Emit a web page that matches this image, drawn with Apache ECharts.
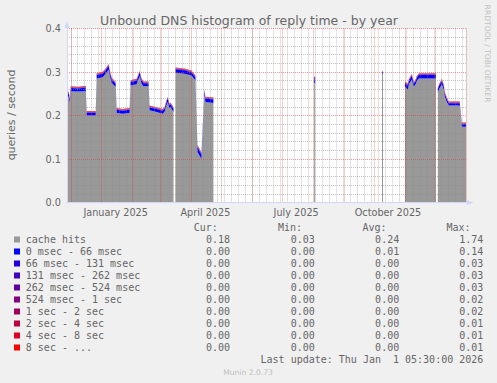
<!DOCTYPE html>
<html><head><meta charset="utf-8">
<script src="https://cdn.jsdelivr.net/npm/echarts@6/dist/echarts.min.js"></script>
<style>html,body{margin:0;padding:0;background:#f0f0f0}#c{width:497px;height:383px}</style>
</head><body><div id="c"></div>
<script>
// ---- data ----
const dates = [
 '2024-11-27','2024-11-29','2024-11-30','2024-12-01','2024-12-08','2024-12-16','2024-12-17','2024-12-26','2024-12-27','2025-01-02',
 '2025-01-05','2025-01-08','2025-01-09','2025-01-11','2025-01-15','2025-01-16','2025-01-22','2025-01-29','2025-01-30','2025-02-05',
 '2025-02-08','2025-02-10','2025-02-12','2025-02-17','2025-02-18','2025-02-25','2025-03-03','2025-03-05','2025-03-08','2025-03-10',
 '2025-03-11','2025-03-14','2025-03-15','2025-03-16','2025-03-25','2025-04-01','2025-04-05','2025-04-07','2025-04-09','2025-04-11',
 '2025-04-14','2025-04-15','2025-04-23','2025-04-24','2025-08-02','2025-08-03','2025-08-04','2025-10-09','2025-10-10','2025-10-11',
 '2025-11-01','2025-11-04','2025-11-05','2025-11-08','2025-11-09','2025-11-10','2025-11-12','2025-11-13','2025-11-15','2025-12-02',
 '2025-12-03','2025-12-04','2025-12-05','2025-12-08','2025-12-10','2025-12-11','2025-12-13','2025-12-15','2025-12-26','2025-12-28',
 '2026-01-01 05:30:00'
];
const cacheHits = [
 0.245,0.243,0.230,0.256,0.255,0.256,0.200,0.200,0.285,0.288,
 0.296,0.306,0.293,0.275,0.266,0.206,0.204,0.206,0.269,0.272,
 0.290,0.273,0.267,0.267,0.212,0.208,0.204,0.208,0.231,0.216,
 0.219,0.208,null,0.298,0.296,0.292,0.281,0.116,0.108,0.100,
 0.249,0.231,0.229,null,0.275,0.275,null,0.296,0.296,null,
 0.266,0.260,0.272,0.283,0.273,0.266,0.273,0.280,0.285,0.285,
 null,0.252,0.259,0.272,0.259,0.243,0.231,0.223,0.223,0.174,
 0.174
];
const ms0_66 = [
 0.007,0.007,0.006,0.007,0.007,0.008,0.006,0.006,0.008,0.008,
 0.008,0.008,0.008,0.008,0.007,0.007,0.007,0.007,0.008,0.008,
 0.008,0.008,0.007,0.007,0.007,0.007,0.007,0.007,0.008,0.007,
 0.007,0.007,null,0.008,0.008,0.007,0.007,0.011,0.011,0.010,
 0.008,0.008,0.008,null,0.005,0.005,null,0.002,0.002,null,
 0.008,0.009,0.008,0.008,0.008,0.007,0.007,0.007,0.008,0.008,
 null,0.008,0.008,0.008,0.007,0.007,0.006,0.005,0.005,0.006,
 0.006
];
const ms66_131 = [
 0.0008,0.0008,0.0007,0.0008,0.0008,0.0008,0.0007,0.0007,0.0009,0.0009,
 0.0009,0.0009,0.0009,0.0008,0.0008,0.0007,0.0007,0.0007,0.0008,0.0008,
 0.0009,0.0008,0.0008,0.0008,0.0007,0.0007,0.0007,0.0007,0.0008,0.0007,
 0.0007,0.0007,null,0.0009,0.0009,0.0008,0.0008,0.0012,0.0012,0.0011,
 0.0009,0.0008,0.0008,null,0.0020,0.0020,null,0.0010,0.0010,null,
 0.0009,0.0009,0.0009,0.0009,0.0009,0.0008,0.0008,0.0009,0.0009,0.0009,
 null,0.0008,0.0008,0.0009,0.0008,0.0008,0.0007,0.0007,0.0007,0.0006,
 0.0006
];
const ms131_262 = [
 0.0004,0.0004,0.0004,0.0004,0.0004,0.0004,0.0004,0.0004,0.0004,0.0004,
 0.0004,0.0004,0.0004,0.0004,0.0004,0.0004,0.0004,0.0004,0.0004,0.0004,
 0.0004,0.0004,0.0004,0.0004,0.0004,0.0004,0.0004,0.0004,0.0004,0.0004,
 0.0004,0.0004,null,0.0004,0.0004,0.0004,0.0004,0.0006,0.0006,0.0006,
 0.0004,0.0004,0.0004,null,0.0020,0.0020,null,0.0008,0.0008,null,
 0.0004,0.0004,0.0004,0.0004,0.0004,0.0004,0.0004,0.0004,0.0004,0.0004,
 null,0.0004,0.0004,0.0004,0.0004,0.0004,0.0004,0.0004,0.0004,0.0004,
 0.0004
];
const ms262_524 = [
 0.0003,0.0003,0.0003,0.0003,0.0003,0.0003,0.0003,0.0003,0.0003,0.0003,
 0.0003,0.0003,0.0003,0.0003,0.0003,0.0003,0.0003,0.0003,0.0003,0.0003,
 0.0003,0.0003,0.0003,0.0003,0.0003,0.0003,0.0003,0.0003,0.0003,0.0003,
 0.0003,0.0003,null,0.0003,0.0003,0.0003,0.0003,0.0005,0.0005,0.0005,
 0.0003,0.0003,0.0003,null,0.0020,0.0020,null,0.0006,0.0006,null,
 0.0003,0.0003,0.0003,0.0003,0.0003,0.0003,0.0003,0.0003,0.0003,0.0003,
 null,0.0003,0.0003,0.0003,0.0003,0.0003,0.0003,0.0003,0.0003,0.0003,
 0.0003
];
const ms524_1s = [
 0.0003,0.0003,0.0003,0.0003,0.0003,0.0003,0.0003,0.0003,0.0003,0.0003,
 0.0003,0.0003,0.0003,0.0003,0.0003,0.0003,0.0003,0.0003,0.0003,0.0003,
 0.0003,0.0003,0.0003,0.0003,0.0003,0.0003,0.0003,0.0003,0.0003,0.0003,
 0.0003,0.0003,null,0.0003,0.0003,0.0003,0.0003,0.0004,0.0004,0.0004,
 0.0003,0.0003,0.0003,null,0.0015,0.0015,null,0.0005,0.0005,null,
 0.0003,0.0003,0.0003,0.0003,0.0003,0.0003,0.0003,0.0003,0.0003,0.0003,
 null,0.0003,0.0003,0.0003,0.0003,0.0003,0.0003,0.0003,0.0003,0.0003,
 0.0003
];
const s1_2 = [
 0.0003,0.0003,0.0003,0.0003,0.0003,0.0003,0.0003,0.0003,0.0003,0.0003,
 0.0003,0.0003,0.0003,0.0003,0.0003,0.0003,0.0003,0.0003,0.0003,0.0003,
 0.0003,0.0003,0.0003,0.0003,0.0003,0.0003,0.0003,0.0003,0.0003,0.0003,
 0.0003,0.0003,null,0.0003,0.0003,0.0003,0.0003,0.0004,0.0004,0.0004,
 0.0003,0.0003,0.0003,null,0.0010,0.0010,null,0.0003,0.0003,null,
 0.0003,0.0003,0.0003,0.0003,0.0003,0.0003,0.0003,0.0003,0.0003,0.0003,
 null,0.0003,0.0003,0.0003,0.0003,0.0003,0.0003,0.0003,0.0003,0.0003,
 0.0003
];
const s2_4 = [
 0.0005,0.0005,0.0005,0.0005,0.0005,0.0005,0.0005,0.0005,0.0005,0.0005,
 0.0005,0.0005,0.0005,0.0005,0.0005,0.0005,0.0005,0.0005,0.0005,0.0005,
 0.0005,0.0005,0.0005,0.0005,0.0005,0.0005,0.0005,0.0005,0.0005,0.0005,
 0.0005,0.0005,null,0.0005,0.0005,0.0005,0.0005,0.0005,0.0005,0.0005,
 0.0005,0.0005,0.0005,null,0.0005,0.0005,null,0.0002,0.0002,null,
 0.0005,0.0005,0.0005,0.0005,0.0005,0.0005,0.0005,0.0005,0.0005,0.0005,
 null,0.0005,0.0005,0.0005,0.0005,0.0005,0.0005,0.0005,0.0005,0.0005,
 0.0005
];
const s4_8 = [
 0.0007,0.0007,0.0007,0.0007,0.0007,0.0007,0.0007,0.0007,0.0007,0.0007,
 0.0007,0.0007,0.0007,0.0007,0.0007,0.0007,0.0007,0.0007,0.0007,0.0007,
 0.0007,0.0007,0.0007,0.0007,0.0007,0.0007,0.0007,0.0007,0.0007,0.0007,
 0.0007,0.0007,null,0.0007,0.0007,0.0007,0.0007,0.0007,0.0007,0.0007,
 0.0007,0.0007,0.0007,null,0.0003,0.0003,null,0.0002,0.0002,null,
 0.0007,0.0007,0.0007,0.0007,0.0007,0.0007,0.0007,0.0007,0.0007,0.0007,
 null,0.0007,0.0007,0.0007,0.0007,0.0007,0.0007,0.0007,0.0007,0.0007,
 0.0007
];
const s8_up = [
 0.0009,0.0009,0.0009,0.0009,0.0009,0.0009,0.0009,0.0009,0.0009,0.0009,
 0.0009,0.0009,0.0009,0.0009,0.0009,0.0009,0.0009,0.0009,0.0009,0.0009,
 0.0009,0.0009,0.0009,0.0009,0.0009,0.0009,0.0009,0.0009,0.0009,0.0009,
 0.0009,0.0009,null,0.0009,0.0009,0.0009,0.0009,0.0009,0.0009,0.0009,
 0.0009,0.0009,0.0009,null,0.0002,0.0002,null,0.0002,0.0002,null,
 0.0009,0.0009,0.0009,0.0009,0.0009,0.0009,0.0009,0.0009,0.0009,0.0009,
 null,0.0009,0.0009,0.0009,0.0009,0.0009,0.0009,0.0009,0.0009,0.0009,
 0.0009
];
const seriesNames = ['cache hits','0 msec - 66 msec','66 msec - 131 msec','131 msec - 262 msec','262 msec - 524 msec','524 msec - 1 sec','1 sec - 2 sec','2 sec - 4 sec','4 sec - 8 sec','8 sec - ...'];
const curVals = ['0.18','0.00','0.00','0.00','0.00','0.00','0.00','0.00','0.00','0.00'];
const minVals = ['0.03','0.00','0.00','0.00','0.00','0.00','0.00','0.00','0.00','0.00'];
const avgVals = ['0.24','0.01','0.00','0.00','0.00','0.00','0.00','0.00','0.00','0.00'];
const maxVals = ['1.74','0.14','0.03','0.03','0.03','0.02','0.02','0.01','0.01','0.01'];
const yTicks = [0, 0.1, 0.2, 0.3, 0.4];
const xLabelDates = ['2025-01-15','2025-04-15','2025-07-15','2025-10-15'];
const xLabelTexts = ['January 2025','April 2025','July 2025','October 2025'];
const titleText = 'Unbound DNS histogram of reply time - by year';
const yTitle = 'queries / second';
const lastUpdate = 'Last update: Thu Jan  1 05:30:00 2026';
const rangeStart = '2024-11-27 05:30:00';
const rangeEnd = '2026-01-01 05:30:00';

// ---- rendering ----
const buckets = [cacheHits, ms0_66, ms66_131, ms131_262, ms262_524, ms524_1s, s1_2, s2_4, s4_8, s8_up];
const colors = ['#999999','#0000FF','#2000DF','#4000BF','#60009F','#80007F','#9F0060','#BF0040','#DF0020','#FF0000'];
function t(s){
  const m = s.match(/(\d+)-(\d+)-(\d+)(?:[ T](\d+):(\d+)(?::(\d+))?)?/);
  return new Date(+m[1], +m[2]-1, +m[3], +(m[4]||0), +(m[5]||0), +(m[6]||0)).getTime();
}
const xMin = t(rangeStart), xMax = t(rangeEnd);
const labelTs = xLabelDates.map(t);

// grid line dates (weekly on Sundays, monthly on 1st)
const weekLines = [];
for (let d = new Date(2024, 11, 1); d.getTime() <= xMax; d = new Date(d.getFullYear(), d.getMonth(), d.getDate() + 7)) weekLines.push(d.getTime());
const monthLines = [];
for (let d = new Date(2024, 11, 1); d.getTime() <= xMax; d = new Date(d.getFullYear(), d.getMonth() + 1, 1)) monthLines.push(d.getTime());

const MINOR = 'rgba(140,140,140,0.5)', MAJOR = 'rgba(230,50,50,0.5)';
const series = buckets.map((arr, k) => ({
  type: 'line', name: seriesNames[k], stack: 'total', xAxisIndex: 0,
  data: dates.map((d, i) => [t(d), arr[i] === null ? '-' : arr[i]]),
  symbol: 'none', showSymbol: false, connectNulls: false, silent: true,
  lineStyle: { width: 0 }, itemStyle: { color: colors[k] },
  areaStyle: { color: colors[k], opacity: 1 }, z: 2
}));

const FONT = '"DejaVu Sans"', MONO = '"DejaVu Sans Mono"';
function txt(text, x, y, align, font, fill, rot) {
  return { type: 'text', x: x, y: y, rotation: rot || 0, silent: true, z: 20,
    style: { text: text, font: font, fill: fill, align: align, textAlign: align, verticalAlign: 'middle', textVerticalAlign: 'middle' } };
}
const G = [];
G.push(txt(titleText, 249, 20, 'center', '12.5px ' + FONT, '#666'));
G.push(txt(yTitle, 11, 115, 'center', '11px ' + FONT, '#666', Math.PI / 2));
G.push(txt('RRDTOOL / TOBI OETIKER', 487.5, 53.5, 'center', '7.6px ' + FONT, '#c0c0c0', -Math.PI / 2));
const colX = [193.8, 278, 362.5, 446.5];
['Cur:', 'Min:', 'Avg:', 'Max:'].forEach((h, j) => G.push(txt(h, colX[j], 227.7, 'left', '10px ' + MONO, '#666')));
const valX = [230, 314.8, 399.2, 483.3];
seriesNames.forEach((n, i) => {
  const y = 239.5 + 12 * i;
  G.push({ type: 'rect', silent: true, z: 20, shape: { x: 14, y: y - 3, width: 6, height: 6 }, style: { fill: colors[i] } });
  G.push(txt(n, 25.8, y, 'left', '10px ' + MONO, '#666'));
  [curVals, minVals, avgVals, maxVals].forEach((col, j) => G.push(txt(col[i], valX[j], y, 'right', '10px ' + MONO, '#666')));
});
G.push(txt(lastUpdate, 483.3, 359.5, 'right', '10px ' + MONO, '#666'));
G.push(txt('Munin 2.0.73', 248, 372, 'center', '7.6px ' + FONT, '#c0c0c0'));

function gridAxis(values, color, z) {
  return {
    type: 'value', min: xMin, max: xMax, position: 'bottom', z: z,
    axisLine: { show: false }, axisLabel: { show: false },
    axisTick: { show: false, customValues: values },
    splitLine: { show: true, lineStyle: { color: color, type: [1, 1], width: 1 } }
  };
}

const chart = echarts.init(document.getElementById('c'), null, { renderer: 'svg', width: 497, height: 383 });
chart.setOption({
  animation: false,
  backgroundColor: '#f0f0f0',
  grid: { left: 67, top: 28.5, width: 399, height: 174, show: true, backgroundColor: '#ffffff', borderWidth: 0, containLabel: false },
  xAxis: [
    {
      type: 'time', min: xMin, max: xMax, z: 11,
      axisLine: { show: true, lineStyle: { color: '#CFD6F8', width: 1 }, symbol: ['none', 'triangle'], symbolSize: [5, 7], symbolOffset: [0, 4] },
      axisTick: { show: false }, splitLine: { show: false }, axisLabel: { show: false }
    },
    {
      type: 'value', min: xMin, max: xMax, position: 'bottom', z: 11,
      axisLine: { show: false }, axisTick: { show: false }, splitLine: { show: false },
      axisLabel: {
        customValues: labelTs, margin: 4, color: '#666', fontFamily: 'DejaVu Sans', fontSize: 9.7, lineHeight: 12,
        hideOverlap: false, showMinLabel: true, showMaxLabel: true,
        formatter: function (v) { const k = labelTs.indexOf(v); return k >= 0 ? xLabelTexts[k] : ''; }
      }
    },
    gridAxis(weekLines, MINOR, 9),
    gridAxis(monthLines, MAJOR, 10)
  ],
  yAxis: {
    type: 'value', min: yTicks[0], max: yTicks[yTicks.length - 1], interval: 0.1, z: 10,
    axisLine: { show: true, lineStyle: { color: '#CFD6F8', width: 1 }, symbol: ['none', 'triangle'], symbolSize: [5, 7], symbolOffset: [0, 4] },
    axisTick: { show: false },
    axisLabel: { margin: 6, color: '#666', fontFamily: 'DejaVu Sans', fontSize: 9.7, formatter: v => v.toFixed(1) },
    splitLine: { show: true, lineStyle: { color: MAJOR, type: [1, 1], width: 1 } },
    minorTick: { show: false, splitNumber: 5 },
    minorSplitLine: { show: true, lineStyle: { color: MINOR, type: [1, 1], width: 1 } }
  },
  series: series,
  graphic: { elements: G }
});
</script></body></html>
